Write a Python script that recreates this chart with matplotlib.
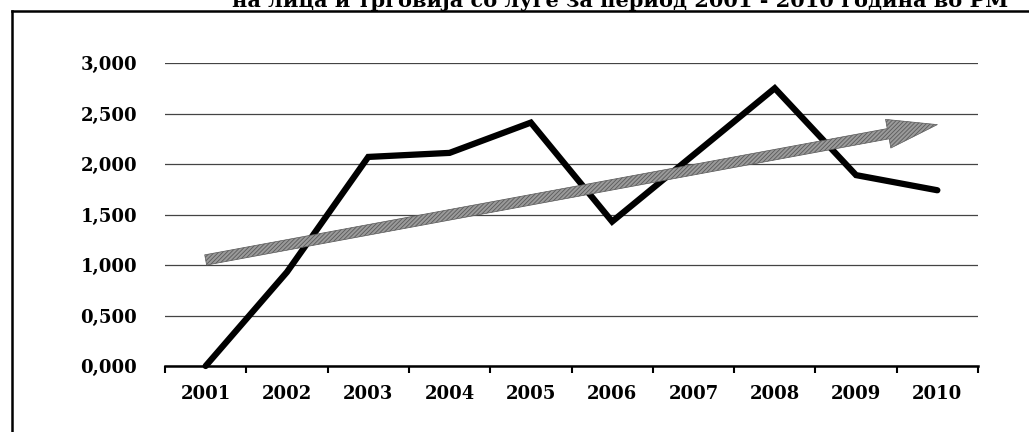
import matplotlib
matplotlib.use("Agg")
import matplotlib.pyplot as plt
from matplotlib.lines import Line2D

# values
years = ["2001", "2002", "2003", "2004", "2005", "2006", "2007", "2008", "2009", "2010"]
values = [0.00, 0.93, 2.07, 2.11, 2.41, 1.43, 2.09, 2.75, 1.89, 1.74]
trend_start = 1.05
trend_end = 2.39
yticks = [0.0, 0.5, 1.0, 1.5, 2.0, 2.5, 3.0]
title = "на лица и трговија со луѓе за период 2001 - 2010 година во РМ"

plt.rcParams["font.family"] = ["DejaVu Serif"]
plt.rcParams["font.weight"] = "bold"
plt.rcParams["hatch.linewidth"] = 0.6

fig = plt.figure(figsize=(10.29, 4.32), dpi=100)
ax = fig.add_axes([165 / 1029, 1 - 366 / 432, (978 - 165) / 1029, (366 - 63) / 432])

x = list(range(len(years)))
ax.plot(x, values, color="black", lw=4.5, solid_capstyle="round", solid_joinstyle="miter",
        clip_on=False, zorder=3)

ax.annotate("", xy=(x[-1], trend_end), xytext=(x[0], trend_start),
            arrowprops=dict(arrowstyle="simple,head_length=3.6,head_width=2.1,tail_width=0.75",
                            mutation_scale=10, shrinkA=0, shrinkB=0,
                            fc="#9a9a9a", ec="#5a5a5a", lw=0.5, hatch="////////"),
            zorder=4, annotation_clip=False)

ax.set_xlim(-0.5, len(years) - 0.5)
ax.set_ylim(0, 3)
ax.set_yticks(yticks)
ax.set_yticklabels([f"{v:.3f}".replace(".", ",") for v in yticks], fontsize=13, fontweight="bold")
ax.set_xticks(x)
ax.set_xticklabels(years, fontsize=13, fontweight="bold")
ax.set_xticks([i - 0.5 for i in range(len(years) + 1)], minor=True)
ax.tick_params(axis="x", which="major", length=0, pad=14)
ax.tick_params(axis="x", which="minor", length=5, width=1.5, direction="out")
ax.tick_params(axis="y", length=0, pad=20)

ax.grid(axis="y", color="#444444", lw=0.9)
ax.set_axisbelow(True)
for s in ["top", "right", "left"]:
    ax.spines[s].set_visible(False)
ax.spines["bottom"].set_linewidth(1.8)
ax.spines["bottom"].set_zorder(2)

# page frame and cut-off caption from the scan
fig.add_artist(Line2D([12 / 1029, 1], [1 - 11 / 432, 1 - 11 / 432], color="black", lw=1.8))
fig.add_artist(Line2D([12 / 1029, 12 / 1029], [0, 1 - 11 / 432], color="black", lw=1.8))
fig.text(1008 / 1029, 1 - 7 / 432, title, ha="right", va="baseline", fontsize=15,
         fontweight="bold")

fig.savefig("out.png", dpi=100)
